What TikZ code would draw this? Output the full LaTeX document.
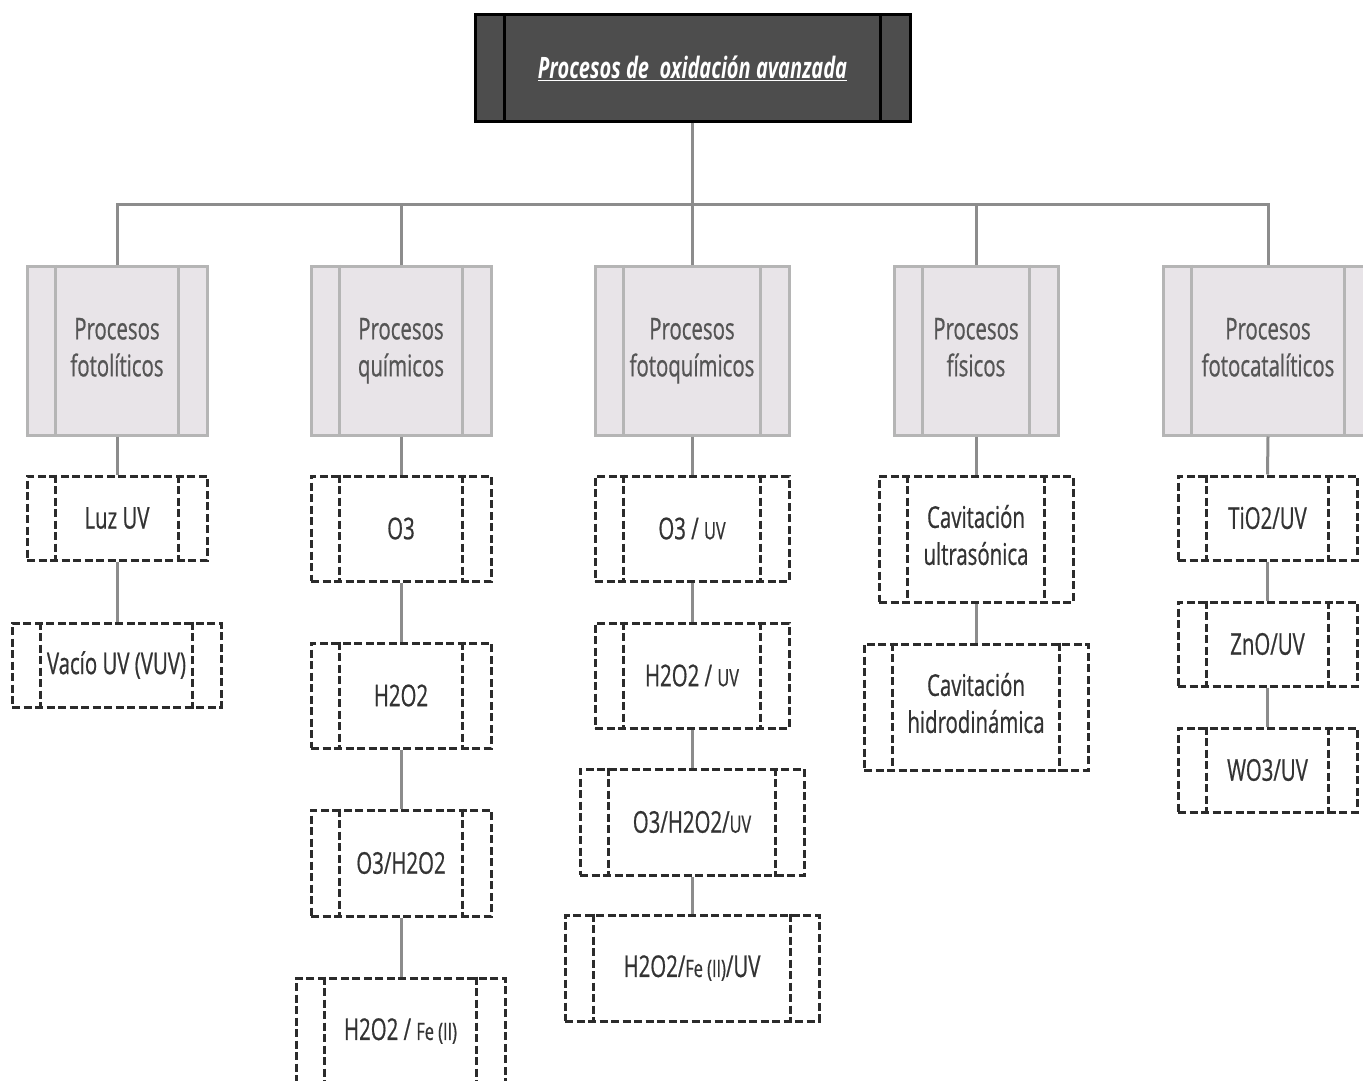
\documentclass[tikz,border=0pt]{standalone}
\usepackage{fontspec}
\setmainfont[FakeStretch=0.68,FakeBold=0.6]{Open Sans}
\newfontfamily\titlefont[FakeStretch=0.68]{Open Sans}
\definecolor{topfill}{HTML}{4D4D4D}
\definecolor{catfill}{HTML}{E8E4E8}
\definecolor{catborder}{HTML}{B5B5B5}
\definecolor{cattext}{HTML}{555555}
\definecolor{linegray}{HTML}{8C8C8C}
\definecolor{subtext}{HTML}{333333}
\definecolor{dashcol}{HTML}{2B2B2B}
\tikzset{
  conn/.style={draw=linegray, line width=3pt},
  topbox/.style={draw=black, fill=topfill, line width=3pt, text=white, inner sep=0pt,
    font=\titlefont\fontsize{29.5}{34}\selectfont\bfseries\itshape},
  catbox/.style={draw=catborder, fill=catfill, line width=3pt, text=cattext, align=center,
    inner sep=0pt, font=\fontsize{30}{37}\selectfont},
  catline/.style={draw=catborder, line width=3pt},
  subbox/.style={draw=dashcol, dash pattern=on 8pt off 3.5pt, line width=3pt, text=subtext,
    align=center, inner sep=0pt, font=\fontsize{30}{37}\selectfont},
  subline/.style={draw=dashcol, dash pattern=on 8pt off 3.5pt, line width=3pt},
}
\newcommand\sidelines[3]{%
  \draw[#3] ([xshift=#2]#1.north west) -- ([xshift=#2]#1.south west);
  \draw[#3] ([xshift=-#2]#1.north east) -- ([xshift=-#2]#1.south east);}
\newcommand\sm[1]{{\fontsize{24}{37}\selectfont #1}}
\newcommand\cattext[2]{\strut #1\\\strut #2}
\begin{document}
\begin{tikzpicture}[x=1pt,y=-1pt]
\useasboundingbox (0,0) rectangle (1363,1081);
% top
\node[topbox, minimum width=435pt, minimum height=106pt] (top) at (692.5,68) {\underline{Procesos de~ oxidación avanzada}};
\draw[line width=3pt, black] ([xshift=31pt]top.north west) -- ([xshift=31pt]top.south west);
\draw[line width=3pt, black] ([xshift=-31pt]top.north east) -- ([xshift=-31pt]top.south east);
% categories
\node[catbox, minimum width=180pt, minimum height=169pt] (c1) at (117,350.5) {\cattext{Procesos}{fotolíticos}};
\node[catbox, minimum width=180pt, minimum height=169pt] (c2) at (401,350.5) {\cattext{Procesos}{químicos}};
\node[catbox, minimum width=194pt, minimum height=169pt] (c3) at (692,350.5) {\cattext{Procesos}{fotoquímicos}};
\node[catbox, minimum width=164pt, minimum height=169pt] (c4) at (976,350.5) {\cattext{Procesos}{físicos}};
\node[catbox, minimum width=210pt, minimum height=169pt] (c5) at (1268,350.5) {\cattext{Procesos}{fotocatalíticos}};
\foreach \n in {c1,c2,c3,c4,c5}{\sidelines{\n}{30pt}{catline}}
% bus
\coordinate (bus) at (692,204);
\draw[conn] (top.south) -- (top.south |- bus);
\draw[conn] (c1.north) -- (c1.north |- bus) -- (c5.north |- bus) -- (c5.north);
\foreach \n in {c2,c3,c4}{\draw[conn] (\n.north) -- (\n.north |- bus);}
% column 1
\node[subbox, minimum width=180pt, minimum height=84pt] (a1) at (117,518) {Luz UV};
\node[subbox, minimum width=209pt, minimum height=84pt] (a2) at (116.5,665) {Vacío UV (VUV)};
% column 2
\node[subbox, minimum width=180pt, minimum height=105pt] (b1) at (401,528.5) {O3};
\node[subbox, minimum width=180pt, minimum height=105pt] (b2) at (401,695.5) {H2O2};
\node[subbox, minimum width=180pt, minimum height=106pt] (b3) at (401,863) {O3/H2O2};
\node[subbox, minimum width=209pt, minimum height=106pt] (b4) at (400.5,1031) {H2O2 / \sm{Fe (II)}};
% column 3
\node[subbox, minimum width=194pt, minimum height=105pt] (d1) at (692,528.5) {O3 / \sm{UV}};
\node[subbox, minimum width=194pt, minimum height=105pt] (d2) at (692,675.5) {H2O2 / \sm{UV}};
\node[subbox, minimum width=224pt, minimum height=106pt] (d3) at (692,822) {O3/H2O2/\sm{UV}};
\node[subbox, minimum width=254pt, minimum height=106pt] (d4) at (692,968) {H2O2/\sm{Fe (II)}/UV};
% column 4
\node[subbox, minimum width=194pt, minimum height=126pt] (e1) at (976,539) {\cattext{Cavitación}{ultrasónica}};
\node[subbox, minimum width=224pt, minimum height=126pt] (e2) at (976,707) {\cattext{Cavitación}{hidrodinámica}};
% column 5
\node[subbox, minimum width=179pt, minimum height=84pt] (f1) at (1267.5,518) {TiO2/UV};
\node[subbox, minimum width=179pt, minimum height=84pt] (f2) at (1267.5,644) {ZnO/UV};
\node[subbox, minimum width=179pt, minimum height=84pt] (f3) at (1267.5,770) {WO3/UV};
\foreach \n in {a1,a2,b1,b2,b3,b4,d1,d2,d3,d4,e1,e2,f1,f2,f3}{\sidelines{\n}{30pt}{subline}}
% connectors
\draw[conn] (c1.south) -- (a1.north);
\draw[conn] (a1.south) -- (a1.south |- a2.north);
\draw[conn] (c2.south) -- (b1.north);
\draw[conn] (b1.south) -- (b2.north);
\draw[conn] (b2.south) -- (b3.north);
\draw[conn] (b3.south) -- (b3.south |- b4.north);
\draw[conn] (c3.south) -- (d1.north);
\draw[conn] (d1.south) -- (d2.north);
\draw[conn] (d2.south) -- (d3.north);
\draw[conn] (d3.south) -- (d4.north);
\draw[conn] (c4.south) -- (e1.north);
\draw[conn] (e1.south) -- (e2.north);
\draw[conn] (c5.south) -- (f1.north);
\draw[conn] (f1.south) -- (f2.north);
\draw[conn] (f2.south) -- (f3.north);
\end{tikzpicture}
\end{document}
